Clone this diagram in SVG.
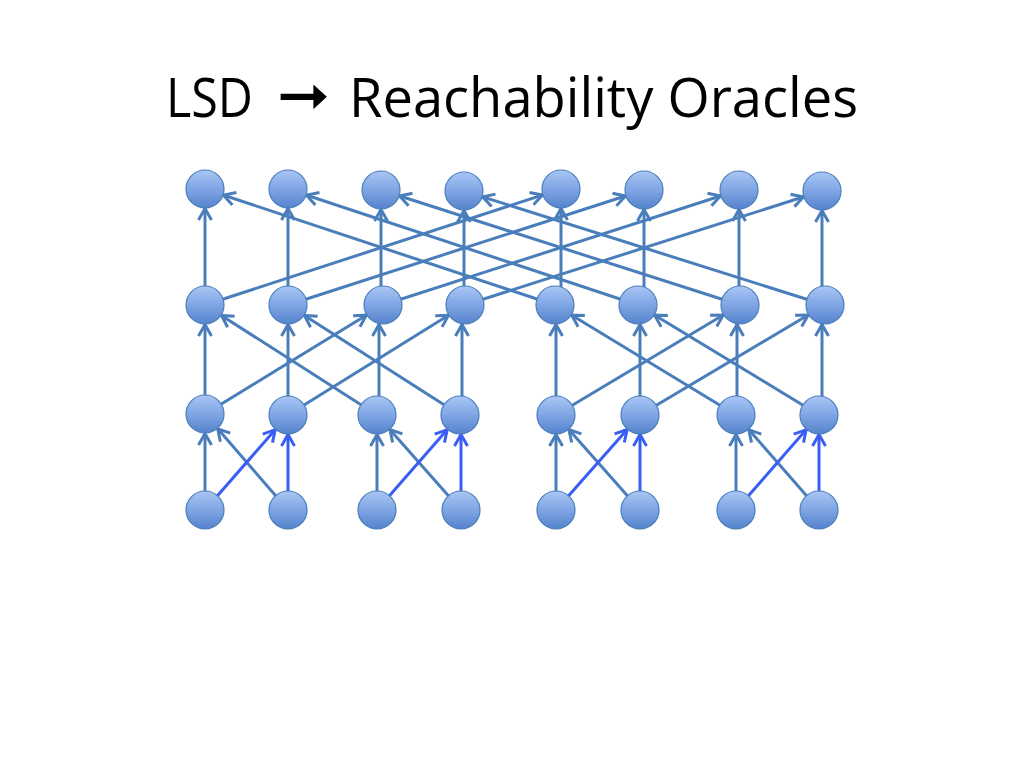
<svg xmlns="http://www.w3.org/2000/svg" width="1024" height="768" viewBox="0 0 1024 768">
<defs>
<linearGradient id="nodeFill" x1="0" y1="0" x2="0" y2="1">
<stop offset="0" stop-color="#a9c6f4"/>
<stop offset="0.5" stop-color="#7fa5e4"/>
<stop offset="1" stop-color="#5583cc"/>
</linearGradient>
<marker id="arrS" markerUnits="userSpaceOnUse" markerWidth="60" markerHeight="30" viewBox="-45 -15 60 30" refX="0" refY="0" orient="auto" overflow="visible">
<path d="M-31,-6.5 L-19.5,0 L-31,6.5" fill="none" stroke="#4a7ebb" stroke-width="3" stroke-linejoin="miter"/>
</marker>
<marker id="arrB" markerUnits="userSpaceOnUse" markerWidth="60" markerHeight="30" viewBox="-45 -15 60 30" refX="0" refY="0" orient="auto" overflow="visible">
<path d="M-31,-6.5 L-19.5,0 L-31,6.5" fill="none" stroke="#3a5ef5" stroke-width="3" stroke-linejoin="miter"/>
</marker>
</defs>
<style>
.title{font-family:"Open Sans","Liberation Sans",sans-serif;font-size:55px;fill:#000}
.arrowch{font-family:"DejaVu Sans",sans-serif;font-size:58px;font-weight:bold;fill:#000}
.e{stroke:#4a7ebb;stroke-width:3;fill:none;marker-end:url(#arrS)}
.b{stroke:#3a5ef5;stroke-width:3;fill:none;marker-end:url(#arrB)}
.node{fill:url(#nodeFill);stroke:#4a7ebb;stroke-width:1.2}
</style>
<rect width="1024" height="768" fill="#fff"/>
<g id="title">
<text class="title" x="166" y="117" textLength="87" lengthAdjust="spacingAndGlyphs">LSD</text>
<text class="arrowch" x="277" y="115" textLength="53" lengthAdjust="spacingAndGlyphs">➞</text>
<text class="title" x="349" y="117" textLength="509" lengthAdjust="spacingAndGlyphs">Reachability Oracles</text>
</g>
<g id="connectors">
<!-- row4 -> row3 -->
<line class="e" x1="205" y1="510" x2="205" y2="414"/>
<line class="e" x1="288" y1="510" x2="205" y2="414"/>
<line class="b" x1="205" y1="510" x2="288" y2="415"/>
<line class="b" x1="288" y1="510" x2="288" y2="415"/>
<line class="e" x1="377" y1="510" x2="377" y2="415"/>
<line class="e" x1="461" y1="510" x2="377" y2="415"/>
<line class="b" x1="377" y1="510" x2="460" y2="415"/>
<line class="b" x1="461" y1="510" x2="461" y2="415"/>
<line class="e" x1="556" y1="510" x2="556" y2="415"/>
<line class="e" x1="640" y1="510" x2="556" y2="415"/>
<line class="b" x1="556" y1="510" x2="640" y2="415"/>
<line class="b" x1="640" y1="510" x2="640" y2="415"/>
<line class="e" x1="736" y1="510" x2="736" y2="415"/>
<line class="e" x1="819" y1="510" x2="736" y2="415"/>
<line class="b" x1="736" y1="510" x2="819" y2="415"/>
<line class="b" x1="819" y1="510" x2="819" y2="415"/>
<!-- row3 -> row2 -->
<line class="e" x1="205" y1="414" x2="205" y2="305"/>
<line class="e" x1="288" y1="415" x2="288" y2="305"/>
<line class="e" x1="379" y1="415" x2="379" y2="305"/>
<line class="e" x1="462" y1="415" x2="462" y2="305"/>
<line class="e" x1="205" y1="414" x2="383" y2="305"/>
<line class="e" x1="288" y1="415" x2="465" y2="305"/>
<line class="e" x1="377" y1="415" x2="205" y2="305"/>
<line class="e" x1="460" y1="415" x2="288" y2="305"/>
<line class="e" x1="556" y1="415" x2="556" y2="305"/>
<line class="e" x1="640" y1="415" x2="640" y2="305"/>
<line class="e" x1="737" y1="415" x2="737" y2="305"/>
<line class="e" x1="822" y1="415" x2="822" y2="305"/>
<line class="e" x1="556" y1="415" x2="740" y2="305"/>
<line class="e" x1="640" y1="415" x2="825" y2="305"/>
<line class="e" x1="736" y1="415" x2="555" y2="305"/>
<line class="e" x1="819" y1="415" x2="638" y2="305"/>
<!-- row2 -> row1 -->
<line class="e" x1="205" y1="305" x2="205" y2="189"/>
<line class="e" x1="288" y1="305" x2="288" y2="189"/>
<line class="e" x1="381" y1="305" x2="381" y2="190"/>
<line class="e" x1="464" y1="305" x2="464" y2="191"/>
<line class="e" x1="561" y1="305" x2="561" y2="189"/>
<line class="e" x1="644" y1="305" x2="644" y2="190"/>
<line class="e" x1="739" y1="305" x2="739" y2="190"/>
<line class="e" x1="822" y1="305" x2="822" y2="191"/>
<line class="e" x1="205" y1="305" x2="561" y2="189"/>
<line class="e" x1="288" y1="305" x2="644" y2="190"/>
<line class="e" x1="383" y1="305" x2="739" y2="190"/>
<line class="e" x1="465" y1="305" x2="822" y2="191"/>
<line class="e" x1="555" y1="305" x2="205" y2="189"/>
<line class="e" x1="638" y1="305" x2="288" y2="189"/>
<line class="e" x1="740" y1="305" x2="381" y2="190"/>
<line class="e" x1="825" y1="305" x2="464" y2="191"/>
</g>
<g id="nodes">
<g id="r1n1"><circle class="node" cx="205" cy="189" r="19"/></g>
<g id="r1n2"><circle class="node" cx="288" cy="189" r="19"/></g>
<g id="r1n3"><circle class="node" cx="381" cy="190" r="19"/></g>
<g id="r1n4"><circle class="node" cx="464" cy="191" r="19"/></g>
<g id="r1n5"><circle class="node" cx="561" cy="189" r="19"/></g>
<g id="r1n6"><circle class="node" cx="644" cy="190" r="19"/></g>
<g id="r1n7"><circle class="node" cx="739" cy="190" r="19"/></g>
<g id="r1n8"><circle class="node" cx="822" cy="191" r="19"/></g>
<g id="r2n1"><circle class="node" cx="205" cy="305" r="19"/></g>
<g id="r2n2"><circle class="node" cx="288" cy="305" r="19"/></g>
<g id="r2n3"><circle class="node" cx="383" cy="305" r="19"/></g>
<g id="r2n4"><circle class="node" cx="465" cy="305" r="19"/></g>
<g id="r2n5"><circle class="node" cx="555" cy="305" r="19"/></g>
<g id="r2n6"><circle class="node" cx="638" cy="305" r="19"/></g>
<g id="r2n7"><circle class="node" cx="740" cy="305" r="19"/></g>
<g id="r2n8"><circle class="node" cx="825" cy="305" r="19"/></g>
<g id="r3n1"><circle class="node" cx="205" cy="414" r="19"/></g>
<g id="r3n2"><circle class="node" cx="288" cy="415" r="19"/></g>
<g id="r3n3"><circle class="node" cx="377" cy="415" r="19"/></g>
<g id="r3n4"><circle class="node" cx="460" cy="415" r="19"/></g>
<g id="r3n5"><circle class="node" cx="556" cy="415" r="19"/></g>
<g id="r3n6"><circle class="node" cx="640" cy="415" r="19"/></g>
<g id="r3n7"><circle class="node" cx="736" cy="415" r="19"/></g>
<g id="r3n8"><circle class="node" cx="819" cy="415" r="19"/></g>
<g id="r4n1"><circle class="node" cx="205" cy="510" r="19"/></g>
<g id="r4n2"><circle class="node" cx="288" cy="510" r="19"/></g>
<g id="r4n3"><circle class="node" cx="377" cy="510" r="19"/></g>
<g id="r4n4"><circle class="node" cx="461" cy="510" r="19"/></g>
<g id="r4n5"><circle class="node" cx="556" cy="510" r="19"/></g>
<g id="r4n6"><circle class="node" cx="640" cy="510" r="19"/></g>
<g id="r4n7"><circle class="node" cx="736" cy="510" r="19"/></g>
<g id="r4n8"><circle class="node" cx="819" cy="510" r="19"/></g>
</g>
</svg>
